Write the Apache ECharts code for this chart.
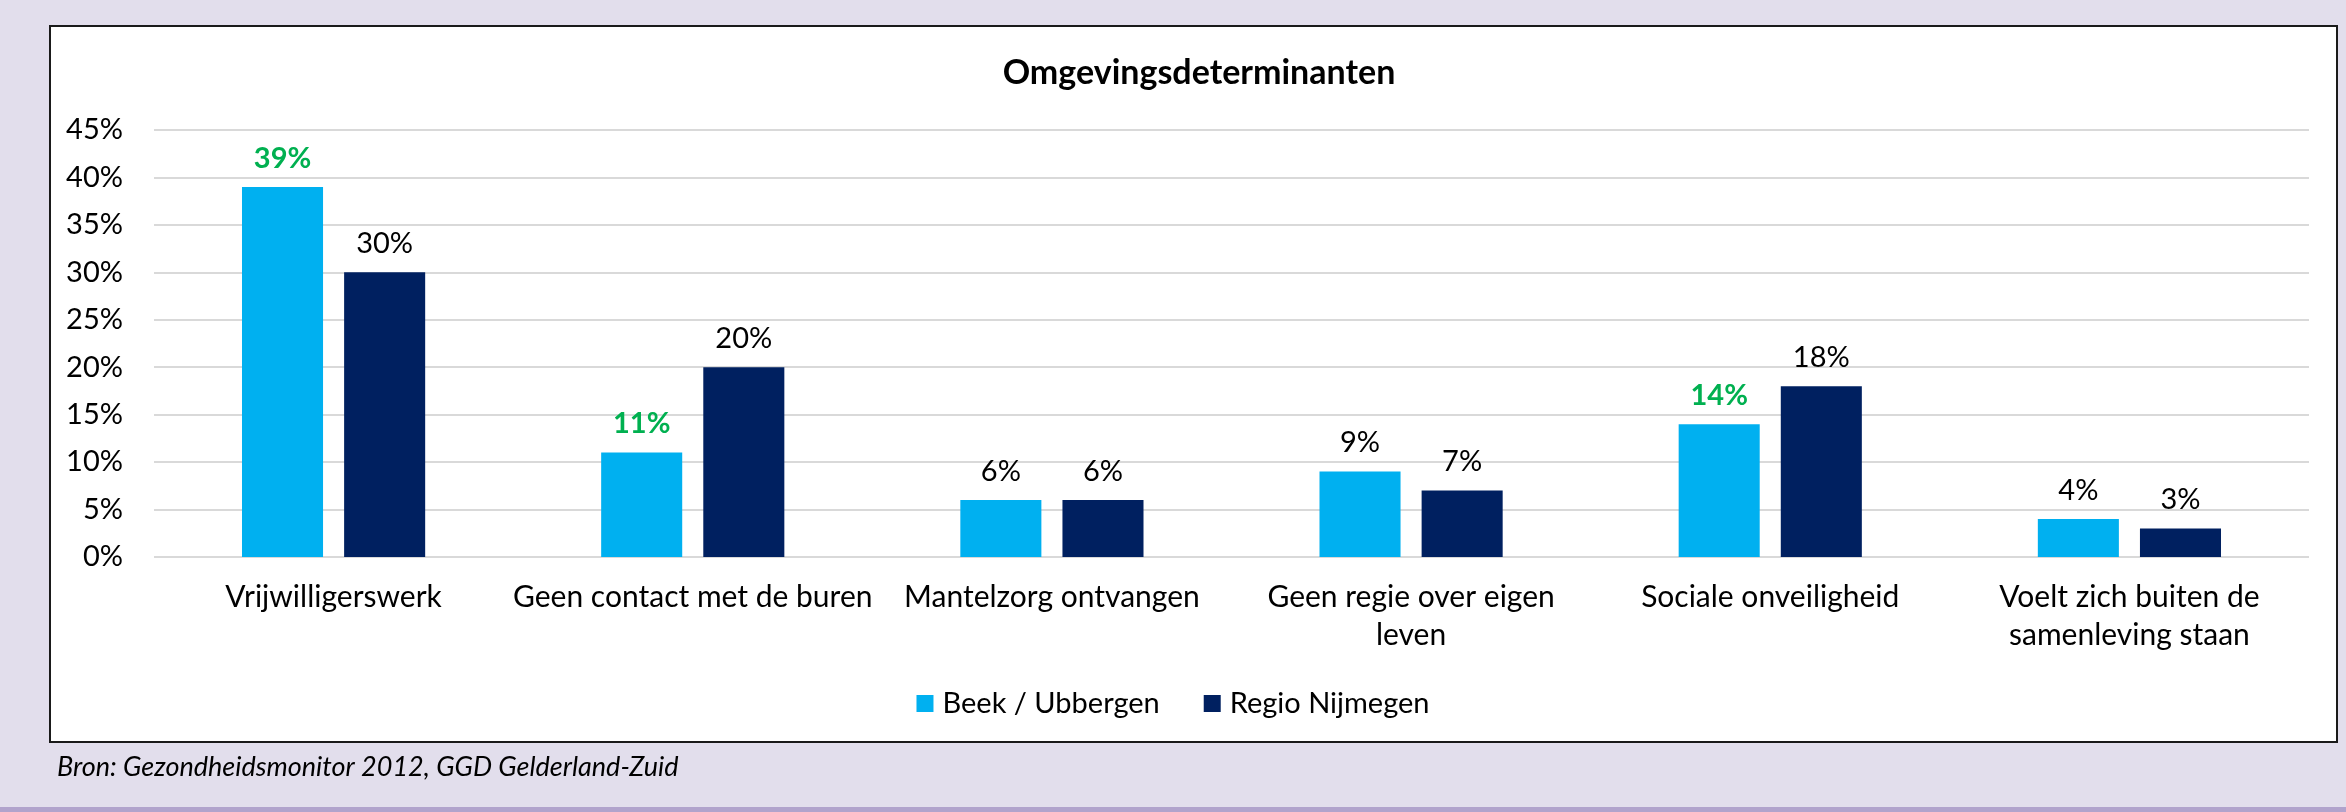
<!DOCTYPE html>
<html>
<head>
<meta charset="utf-8">
<script src="https://cdn.jsdelivr.net/npm/echarts@6/dist/echarts.min.js"></script>
<style>
  html, body { margin: 0; padding: 0; background: #e2deec; }
  #chart { width: 2346px; height: 812px; }
</style>
</head>
<body>
<div id="chart"></div>
<script>
var categories = [
  'Vrijwilligerswerk',
  'Geen contact met de buren',
  'Mantelzorg ontvangen',
  'Geen regie over eigen\nleven',
  'Sociale onveiligheid',
  'Voelt zich buiten de\nsamenleving staan'
];
var beekValues = [39, 11, 6, 9, 14, 4];
var regioValues = [30, 20, 6, 7, 18, 3];
// labels Excel shows in bold green (significant difference)
var beekSignificant = [true, true, false, false, true, false];
var yTicks = [0, 5, 10, 15, 20, 25, 30, 35, 40, 45];

var chart = echarts.init(document.getElementById('chart'));

var beekData = beekValues.map(function (v, i) {
  var item = { value: v };
  if (beekSignificant[i]) {
    item.label = { color: '#00b050', fontWeight: 'bold' };
  }
  return item;
});

var option = {
  backgroundColor: 'transparent',
  textStyle: { fontFamily: 'Lato' },
  graphic: [
    {
      type: 'rect', z: -10, silent: true,
      shape: { x: 50, y: 26, width: 2287, height: 716 },
      style: { fill: '#ffffff', stroke: '#1a1a1a', lineWidth: 2 }
    },
    {
      type: 'rect', z: -10, silent: true,
      shape: { x: 0, y: 807, width: 2346, height: 5 },
      style: { fill: '#b1a3cc' }
    }
  ],
  title: [
    {
      text: 'Omgevingsdeterminanten',
      left: 1194, top: 51, textAlign: 'center',
      textStyle: { fontFamily: 'Lato', fontSize: 34, fontWeight: 'bold', color: '#000' }
    },
    {
      text: 'Bron: Gezondheidsmonitor 2012, GGD Gelderland-Zuid',
      left: 52, top: 749,
      textStyle: { fontFamily: 'Lato', fontSize: 27, fontStyle: 'italic', fontWeight: 'normal', color: '#000' }
    }
  ],
  legend: {
    data: ['Beek / Ubbergen', 'Regio Nijmegen'],
    left: 'center',
    top: 684,
    itemWidth: 17,
    itemHeight: 17,
    itemGap: 44,
    icon: 'rect',
    textStyle: { fontFamily: 'Lato', fontSize: 29, color: '#000', padding: [0, 0, 0, 4] }
  },
  grid: { left: 154, right: 37, top: 130, bottom: 255, containLabel: false },
  xAxis: {
    type: 'category',
    data: categories,
    axisLine: { show: false },
    axisTick: { show: false },
    axisLabel: {
      interval: 0, margin: 21, color: '#000',
      fontFamily: 'Lato', fontSize: 30, lineHeight: 38
    }
  },
  yAxis: {
    type: 'value',
    min: yTicks[0],
    max: yTicks[yTicks.length - 1],
    interval: 5,
    axisLine: { show: false },
    axisTick: { show: false },
    axisLabel: {
      margin: 31, color: '#000', fontFamily: 'Lato', fontSize: 29,
      formatter: '{value}%'
    },
    splitLine: { lineStyle: { color: '#d9d9d9', width: 2 } }
  },
  series: [
    {
      name: 'Beek / Ubbergen',
      type: 'bar',
      data: beekData,
      barGap: '26%',
      barCategoryGap: '49%',
      itemStyle: { color: '#00b0f0' },
      label: {
        show: true, position: 'top', distance: 14,
        formatter: '{c}%', color: '#000',
        fontFamily: 'Lato', fontSize: 29, lineHeight: 29
      }
    },
    {
      name: 'Regio Nijmegen',
      type: 'bar',
      data: regioValues,
      itemStyle: { color: '#002060' },
      label: {
        show: true, position: 'top', distance: 14,
        formatter: '{c}%', color: '#000',
        fontFamily: 'Lato', fontSize: 29, lineHeight: 29
      }
    }
  ]
};

chart.setOption(option);
</script>
</body>
</html>
